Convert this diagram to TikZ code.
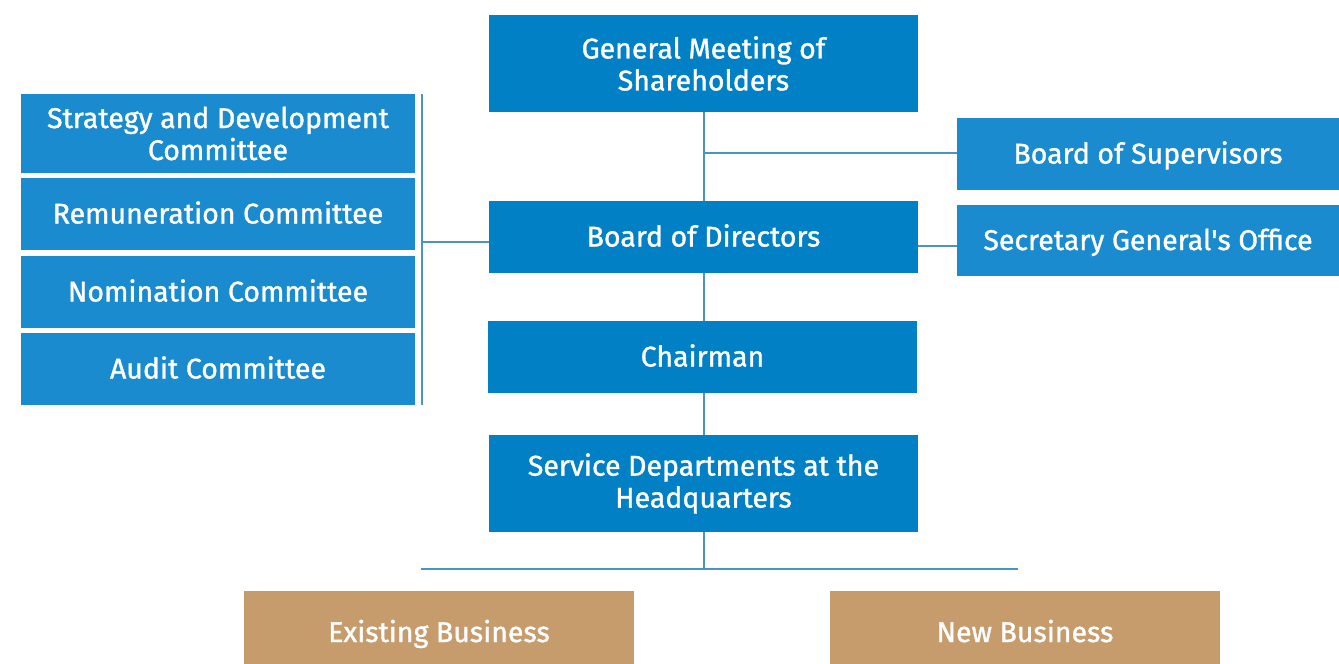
\documentclass[tikz,border=0pt]{standalone}
\usepackage{fontspec}
\setmainfont{Fira Sans}[FakeBold=1.2]
\definecolor{dblue}{HTML}{0280C6}
\definecolor{lblue}{HTML}{1A8BCF}
\definecolor{tan}{HTML}{C69C6D}
\definecolor{linec}{HTML}{4A93C2}
\begin{document}
\begin{tikzpicture}[x=1pt,y=-1pt,
  box/.style={draw=none,inner sep=0pt,text=white,align=center,font=\fontsize{28.5}{32}\selectfont},
  one/.style={text height=22pt,text depth=3pt},
  low/.style={text height=30pt,text depth=1pt},
  conn/.style={draw=linec,line width=1.6pt}]
\useasboundingbox (0,0) rectangle (1339,664);
\node[box,fill=dblue,minimum width=429pt,minimum height=97pt] (gm) at (703.5,63.5) {General Meeting of\\Shareholders};
\node[box,one,fill=lblue,minimum width=382pt,minimum height=72pt] (bs) at (1148,154) {Board of Supervisors};
\node[box,one,fill=lblue,minimum width=382pt,minimum height=71pt] (sg) at (1148,240.5) {Secretary General\textquotesingle s Office};
\node[box,one,fill=dblue,minimum width=429pt,minimum height=72pt] (bd) at (703.5,237) {Board of Directors};
\node[box,one,fill=dblue,minimum width=429pt,minimum height=72pt] (ch) at (702.5,357) {Chairman};
\node[box,fill=dblue,minimum width=429pt,minimum height=97pt] (sd) at (703.5,483.5) {Service Departments at the\\Headquarters};
\node[box,fill=lblue,minimum width=394pt,minimum height=79pt] (st) at (218,133.5) {Strategy and Development\\Committee};
\node[box,one,fill=lblue,minimum width=394pt,minimum height=72pt] (re) at (218,214) {Remuneration Committee};
\node[box,one,fill=lblue,minimum width=394pt,minimum height=72pt] (no) at (218,292) {Nomination Committee};
\node[box,one,fill=lblue,minimum width=394pt,minimum height=72pt] (au) at (218,369) {Audit Committee};
\node[box,low,fill=tan,minimum width=390pt,minimum height=73pt] (eb) at (439,627.5) {Existing Business};
\node[box,low,fill=tan,minimum width=390pt,minimum height=73pt] (nb) at (1025,627.5) {New Business};
% connectors
\coordinate (lt) at (422,94);
\coordinate (lb) at (422,405);
\coordinate (lm) at (422,242);
\coordinate (sj) at (704,153);
\coordinate (bj) at (704,569);
\coordinate (bl) at (421,569);
\coordinate (br) at (1018,569);
\draw[conn] (lt) -- (lb);
\draw[conn] (lm) -- (lm -| bd.west);
\draw[conn] (gm.south -| sj) -- (bd.north -| sj);
\draw[conn] (sj) -- (sj -| bs.west);
\draw[conn] (bd.east |- 0,246) -- (sg.west |- 0,246);
\draw[conn] (bd.south -| sj) -- (ch.north -| sj);
\draw[conn] (ch.south -| sj) -- (sd.north -| sj);
\draw[conn] (sd.south -| sj) -- (bj);
\draw[conn] (bl) -- (br);
\end{tikzpicture}
\end{document}
